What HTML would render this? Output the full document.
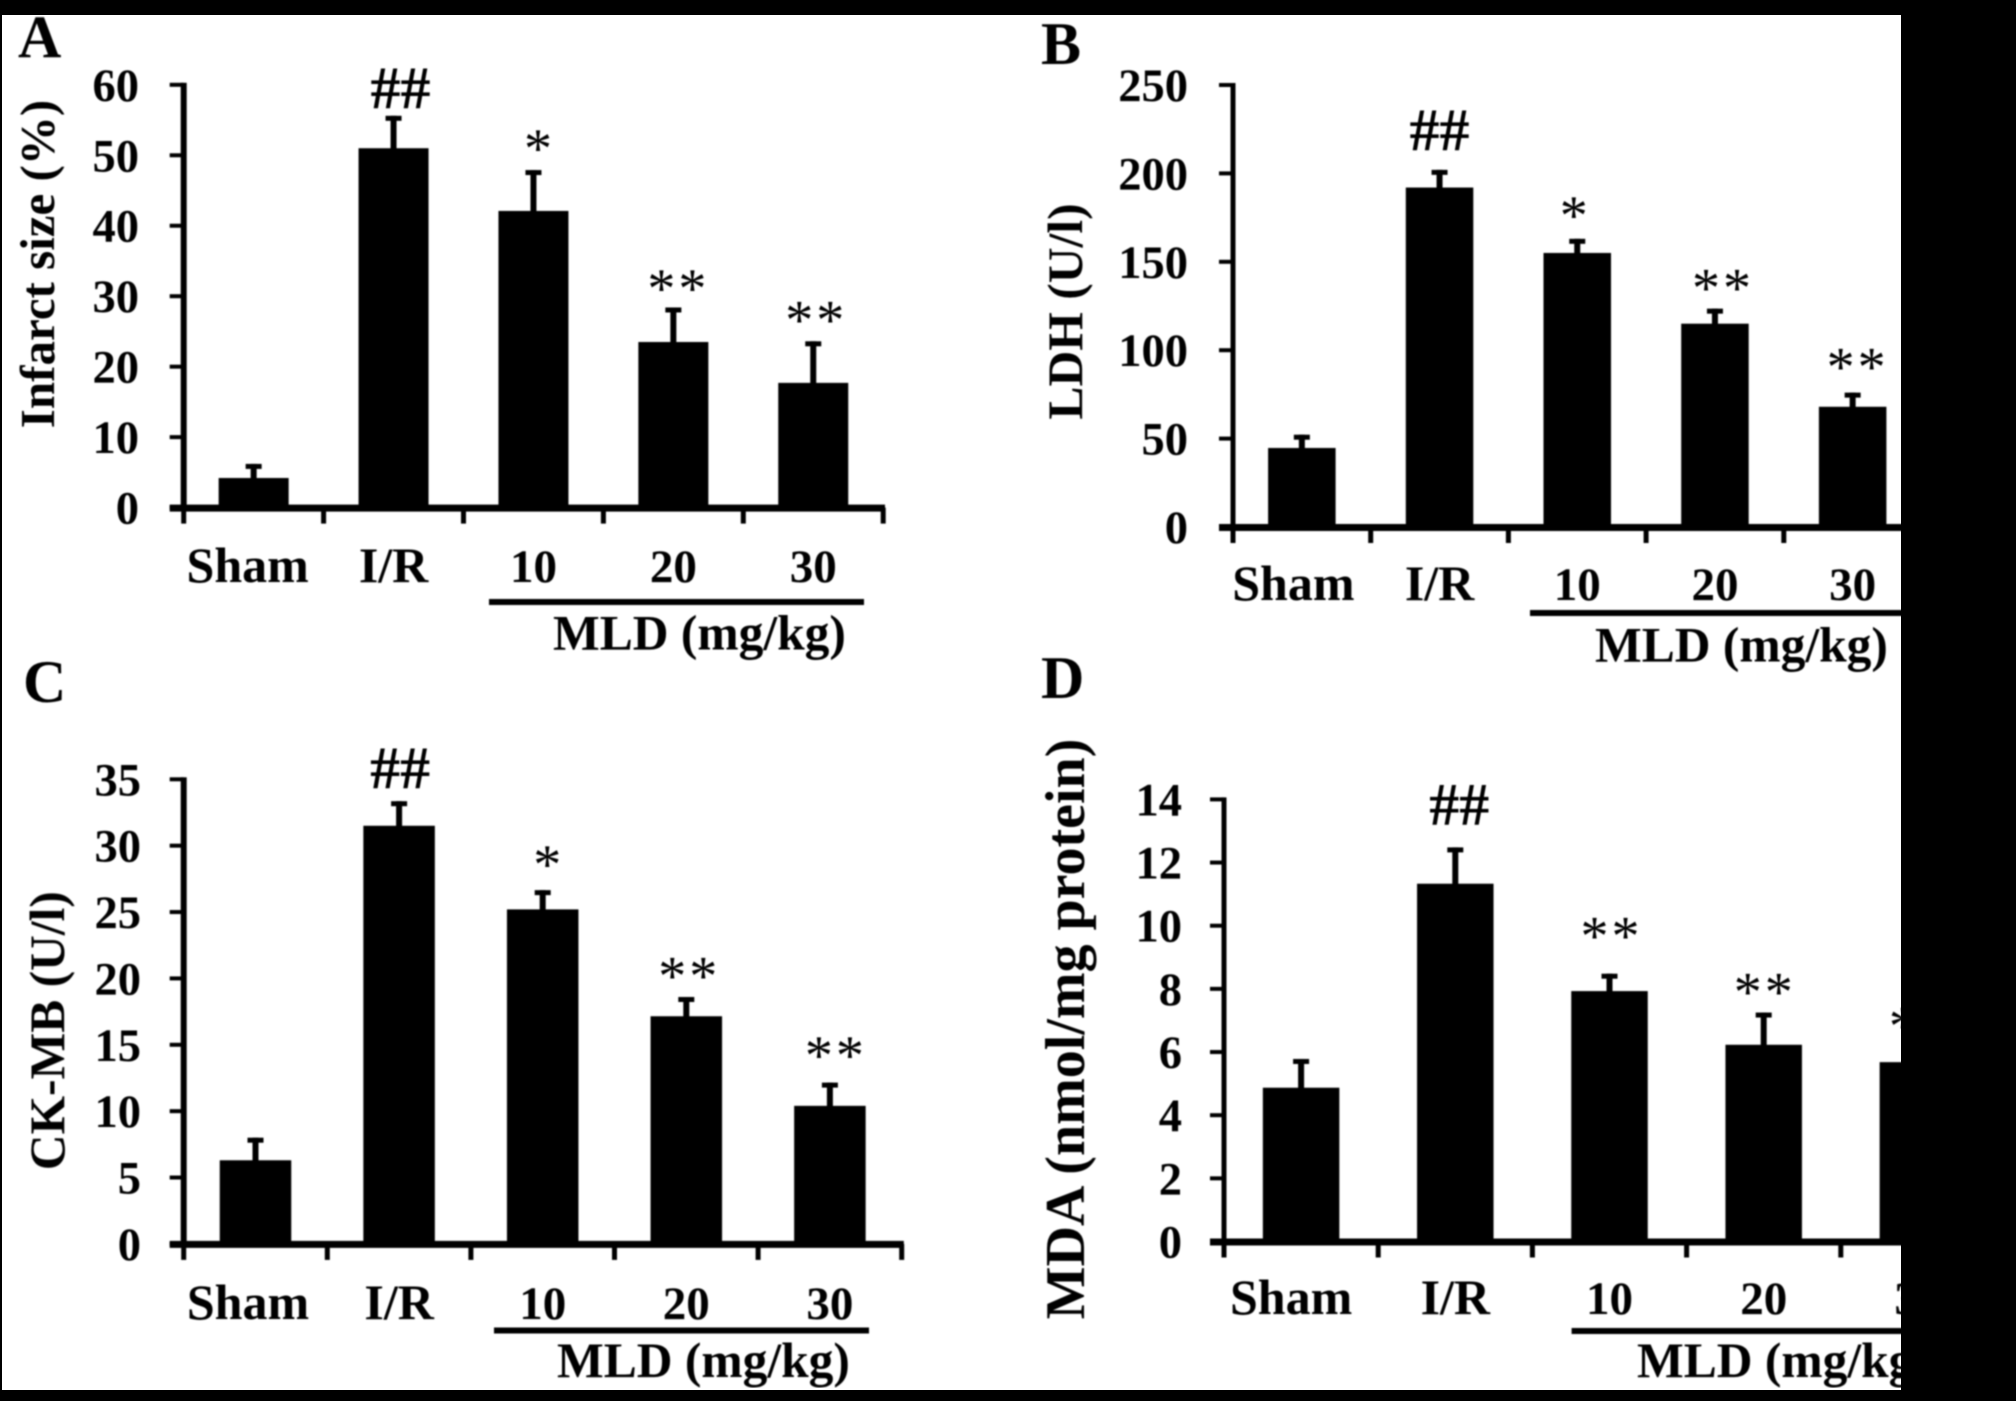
<!DOCTYPE html>
<html lang="en">
<head>
<meta charset="utf-8">
<title>Infarct size, LDH, CK-MB and MDA bar charts</title>
<style>
  html, body { margin: 0; padding: 0; background: #000; width: 2016px; height: 1401px; overflow: hidden; }
  svg { display: block; }
  text { font-family: "Liberation Serif", "Times New Roman", serif; font-weight: bold; fill: #000; }
</style>
</head>
<body>
<svg id="figure" xmlns="http://www.w3.org/2000/svg" width="2016" height="1401" viewBox="0 0 2016 1401">
  <defs>
    <clipPath id="page-clip"><rect x="2" y="15" width="1899" height="1375"/></clipPath>
    <filter id="soft" x="0" y="0" width="100%" height="100%"><feGaussianBlur stdDeviation="0.8"/></filter>
  </defs>
  <rect x="0" y="0" width="2016" height="1401" fill="#000"/>
  <g id="content" clip-path="url(#page-clip)">
    <rect x="2" y="15" width="1899" height="1375" fill="#fff"/>
    <g filter="url(#soft)" id="drawn">
      <text x="18" y="57" font-size="60">A</text>
      <text x="1041" y="64" font-size="60">B</text>
      <text x="23" y="702" font-size="60">C</text>
      <text x="1041" y="698" font-size="60">D</text>

      <text font-size="49" text-anchor="middle" transform="translate(54 264) rotate(-90)">Infarct size (%)</text>
      <text font-size="49.6" text-anchor="middle" transform="translate(1082 311.5) rotate(-90)">LDH (U/l)</text>
      <text font-size="49.5" text-anchor="middle" transform="translate(64 1030.7) rotate(-90)">CK-MB (U/l)</text>
      <text font-size="56" text-anchor="middle" transform="translate(1084 1029) rotate(-90)">MDA (nmol/mg protein)</text>

      <rect x="489" y="599" width="375" height="6" fill="#000"/>
      <rect x="1530" y="610" width="380" height="6" fill="#000"/>
      <rect x="494" y="1327.5" width="375" height="6" fill="#000"/>
      <rect x="1571.6" y="1328" width="340" height="6" fill="#000"/>

      <text x="553" y="649.5" font-size="49.5">MLD (mg/kg)</text>
      <text x="1595" y="661.6" font-size="49.5">MLD (mg/kg)</text>
      <text x="557" y="1377" font-size="49.5">MLD (mg/kg)</text>
      <text x="1637" y="1377" font-size="49.5">MLD (mg/kg)</text>
    </g>
  </g>
</svg>
<script>
// Shared categories
const categories = ['Sham', 'I/R', '10', '20', '30'];

// Panel A: infarct size (%)
const infarctTicks = [0, 10, 20, 30, 40, 50, 60];
const infarctValues = [4.2, 51, 42.1, 23.5, 17.7];
const infarctErrors = [2.0, 4.6, 5.8, 4.9, 5.9];
const infarctMarks = ['', '##', '*', '**', '**'];

// Panel B: LDH (U/l)
const ldhTicks = [0, 50, 100, 150, 200, 250];
const ldhValues = [44.7, 192, 155, 115, 68];
const ldhErrors = [7.5, 10, 8, 8.5, 8];
const ldhMarks = ['', '##', '*', '**', '**'];

// Panel C: CK-MB (U/l)
const ckmbTicks = [0, 5, 10, 15, 20, 25, 30, 35];
const ckmbValues = [6.3, 31.5, 25.2, 17.15, 10.4];
const ckmbErrors = [1.7, 1.85, 1.45, 1.45, 1.75];
const ckmbMarks = ['', '##', '*', '**', '**'];

// Panel D: MDA (nmol/mg protein)
const mdaTicks = [0, 2, 4, 6, 8, 10, 12, 14];
const mdaValues = [4.87, 11.33, 7.93, 6.23, 5.68];
const mdaErrors = [0.91, 1.15, 0.55, 1.02, 0.5];
const mdaMarks = ['', '##', '**', '**', '**'];

const panels = [
  { id: 'a', ticks: infarctTicks, values: infarctValues, errors: infarctErrors, marks: infarctMarks,
    layout: { x0: 183.7, step: 139.9, barW: 70, y0: 507.6, yTop: 84.8, labelRight: 139, catBase: 582, axisEnd: 883, axisW: 6, shamDx: -6, gaps: [0, 7.6, 17.9, 15.6, 17.6], markDx: [0, 3, 4, 3, 1] } },
  { id: 'b', ticks: ldhTicks, values: ldhValues, errors: ldhErrors, marks: ldhMarks,
    layout: { x0: 1233, step: 137.7, barW: 67.5, y0: 527, yTop: 85, labelRight: 1188, catBase: 600, axisEnd: 1910, axisW: 5, shamDx: -8.5, gaps: [0, 20, 20, 17, 22], markDx: [0, -4, -4, 6, 3] } },
  { id: 'c', ticks: ckmbTicks, values: ckmbValues, errors: ckmbErrors, marks: ckmbMarks,
    layout: { x0: 183.7, step: 143.6, barW: 71.5, y0: 1243.9, yTop: 779.3, labelRight: 141, catBase: 1319, axisEnd: 901.8, axisW: 6, shamDx: -7.5, gaps: [0, 13, 22, 17.5, 23.5], markDx: [0, -3, 4, 1, 4] } },
  { id: 'd', ticks: mdaTicks, values: mdaValues, errors: mdaErrors, marks: mdaMarks,
    layout: { x0: 1224, step: 154.2, barW: 76.5, y0: 1241.5, yTop: 799.4, labelRight: 1182, catBase: 1314, axisEnd: 1910, axisW: 5, shamDx: -10, gaps: [0, 23, 34, 17, 17], markDx: [0, 0, 0, -1, 0] } }
];

const SVG_NS = 'http://www.w3.org/2000/svg';
const drawn = document.getElementById('drawn');

function make(tag, attrs, parent) {
  const el = document.createElementNS(SVG_NS, tag);
  for (const key in attrs) el.setAttribute(key, attrs[key]);
  parent.appendChild(el);
  return el;
}

panels.forEach(function (panel) {
  const L = panel.layout;
  const maxTick = panel.ticks[panel.ticks.length - 1];
  const yScale = function (v) { return L.y0 - v * (L.y0 - L.yTop) / maxTick; };
  const xBand = function (i) { return L.x0 + L.step * (i + 0.5); };

  const group = make('g', {}, drawn);
  
  

  // Bars
  panel.values.forEach(function (v, i) {
    const bar = make('rect', { x: xBand(i) - L.barW / 2, y: yScale(v), width: L.barW, height: L.y0 - yScale(v), fill: '#000' }, group);
    
    
  });

  // Error bars
  panel.values.forEach(function (v, i) {
    const top = yScale(v + panel.errors[i]);
    const cx = xBand(i);
    const stem = make('rect', { x: cx - 3, y: top, width: 6, height: yScale(v) - top + 1, fill: '#000' }, group);
    
    
    const cap = make('rect', { x: cx - 8, y: top, width: 16, height: 5, fill: '#000' }, group);
    
    

    // Significance marks
    const mark = panel.marks[i];
    if (mark) {
      const isStar = mark.charAt(0) === '*';
      const base = top - L.gaps[i] + (isStar ? 15 : 0);
      const note = make('text', { x: cx + (isStar ? 2 : 4) + L.markDx[i], y: base, 'font-size': isStar ? 56 : 60, 'text-anchor': 'middle', 'letter-spacing': isStar ? 3 : 0, style: 'font-weight:' + (isStar ? 'normal' : 'bold') }, group);
      
      
      note.textContent = mark;
    }
  });

  // Y axis
  const yAxis = make('rect', { x: L.x0 - L.axisW / 2, y: yScale(maxTick) - 2, width: L.axisW, height: L.y0 - yScale(maxTick) + 5, fill: '#000' }, group);
  
  

  panel.ticks.forEach(function (t) {
    const tick = make('rect', { x: L.x0 - 14, y: yScale(t) - 2, width: 14, height: 4, fill: '#000' }, group);
    
    
    const label = make('text', { x: L.labelRight, y: yScale(t) + 16, 'font-size': 46.5, 'text-anchor': 'end' }, group);
    
    
    label.textContent = t;
  });

  // X axis
  const xAxis = make('rect', { x: L.x0 - 14, y: L.y0 - 3, width: L.axisEnd - L.x0 + 16, height: 7, fill: '#000' }, group);
  
  

  for (let i = 0; i <= categories.length; i++) {
    const tick = make('rect', { x: L.x0 + L.step * i - 2.5, y: L.y0, width: 5, height: 16, fill: '#000' }, group);
    
    
  }

  categories.forEach(function (c, i) {
    const label = make('text', { x: xBand(i) + (i === 0 ? L.shamDx : 0), y: L.catBase, 'font-size': i < 2 ? 50 : 47, 'text-anchor': 'middle' }, group);
    
    
    label.textContent = c;
  });
});
</script>
</body>
</html>
